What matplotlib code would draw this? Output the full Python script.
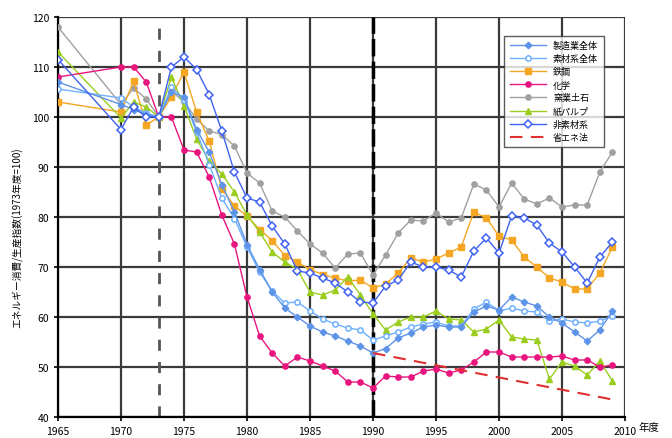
import matplotlib
matplotlib.use('Agg')
import matplotlib.pyplot as plt

plt.rcParams['font.family'] = ['Noto Sans CJK JP', 'DejaVu Sans']

years = [1965] + list(range(1970, 2010))

# 製造業全体
all_mfg = [107,
           102.5, 101.5, 100.5, 100, 105, 104, 97.5, 93, 86.5, 81,
           74.5, 69.5, 65, 61.8, 60, 58.2, 57, 56.2, 55.2, 54.2,
           52.8, 53.7, 55.8, 56.8, 58, 58.4, 58, 58, 61, 62.2,
           61.4, 64, 63, 62.2, 60, 58.8, 57, 55.2, 57.4, 61.2]
# 素材系全体
materials = [105.6,
             103.8, 102, 100.8, 100, 106, 103.5, 97, 90.5, 83.8, 79.7,
             74, 69, 65.2, 62.8, 63, 61.2, 59.6, 58.6, 57.8, 57.4,
             55.4, 56.2, 57, 58, 58.6, 59, 58.2, 58.2, 61.6, 63,
             61.2, 61.8, 61.2, 61, 59.2, 59.6, 59, 58.8, 59.2, 60.2]
# 鉄鋼
steel = [103,
         101, 107.2, 98.4, 100, 104, 109, 101, 95.2, 85.6, 82.2,
         80.2, 77.5, 75.3, 72.3, 71, 69.5, 68.5, 67.8, 67.2, 67.4,
         65.8, 66.6, 68.8, 71.8, 71, 71.6, 72.8, 74, 81, 79.8,
         76.2, 75.4, 72, 70, 67.8, 67, 65.6, 65.6, 68.8, 74]
# 化学
chemical = [108,
            110, 110, 107, 100, 100, 93.4, 93, 88, 80.4, 74.6,
            64, 56.2, 52.8, 50.2, 52, 51.2, 50.2, 49.2, 47, 47,
            45.8, 48.2, 48, 48, 49.2, 49.6, 48.8, 49.4, 51, 53,
            53, 52, 52, 52, 52, 52.2, 51.4, 51.4, 50, 50.4]
# 窯業土石
ceramics = [118,
            102.5, 105.8, 103.6, 100, 105.2, 103, 99.6, 97.2, 96.5, 94.2,
            88.8, 86.8, 81.2, 80, 77.2, 74.6, 72.8, 69.8, 72.6, 72.8,
            68.4, 72.4, 76.8, 79.4, 79.2, 80.8, 79, 79.8, 86.6, 85.4,
            82, 86.8, 83.6, 82.6, 83.8, 82, 82.4, 82.4, 89, 93]
# 紙パルプ
paper = [113,
         99.8, 103, 102, 100, 108, 102.2, 95.6, 91.2, 88.6, 85,
         80.4, 77, 73, 71, 69.5, 65, 64.4, 65.4, 68, 64.4,
         60.6, 57.4, 59, 60, 60, 61.2, 59.6, 59.4, 57, 57.6,
         59.4, 56, 55.6, 55.4, 47.6, 51, 50.2, 48.4, 51.2, 47.2]
# 非素材系
non_materials = [111.5,
                 97.5, 102, 100, 100, 110, 112, 109.5, 104.5, 97.2, 89,
                 83.8, 83, 78.2, 74.6, 69.2, 68.8, 67.8, 66.8, 65, 63,
                 62.8, 66.2, 67.4, 71, 70, 70, 69.4, 68, 73.2, 75.8,
                 72.8, 80.2, 79.8, 78.4, 74.8, 73, 70, 66.8, 72, 75]
# 省エネ法 target line
law_years = [1990, 2009]
law_values = [52.8, 43.5]

fig = plt.figure(figsize=(6.72, 4.39), dpi=100)
ax = fig.add_axes([0.0863, 0.0478, 0.8438, 0.9112])

ax.set_xlim(1965, 2010)
ax.set_ylim(40, 120)
ax.set_xticks(range(1965, 2011, 5))
ax.set_yticks(range(40, 121, 10))
ax.grid(True, color='#3a3a3a', linewidth=1.6)
ax.set_axisbelow(True)
for s in ['top', 'right']:
    ax.spines[s].set_visible(False)
for s in ['left', 'bottom']:
    ax.spines[s].set_linewidth(1.6)
ax.tick_params(labelsize=7.5, length=3, width=1.2)

# reference years
ax.axvline(1973, color='#555555', linewidth=2, linestyle=(0, (4, 4)), zorder=2)
ax.axvline(1990, color='black', linewidth=2.5, linestyle=(0, (5, 1.5)), zorder=2)

ms = 3.8
lw = 1.0
ax.plot(years, ceramics, color='#a0a0a0', marker='o', ms=ms, lw=lw, label='窯業土石', zorder=3)
ax.plot(years, steel, color='#f5a623', marker='s', ms=ms, lw=lw, label='鉄鋼', zorder=3)
ax.plot(years, paper, color='#9acd1e', marker='^', ms=ms + 0.5, lw=lw, label='紙パルプ', zorder=3)
ax.plot(years, chemical, color='#e8157e', marker='o', ms=ms, lw=lw, label='化学', zorder=3)
ax.plot(years, materials, color='#6fb0ff', marker='o', ms=ms, lw=lw, mfc='white', mew=1.1, label='素材系全体', zorder=3)
ax.plot(years, all_mfg, color='#5d93e8', marker='D', ms=ms - 0.5, lw=lw, label='製造業全体', zorder=3)
ax.plot(years, non_materials, color='#3f63f0', marker='D', ms=ms, lw=lw, mfc='white', mew=1.1, label='非素材系', zorder=3)
ax.plot(law_years, law_values, color='#e03030', lw=1.5, linestyle=(0, (6, 4)), label='省エネ法', zorder=3)

order = ['製造業全体', '素材系全体', '鉄鋼', '化学', '窯業土石', '紙パルプ', '非素材系', '省エネ法']
handles, labels = ax.get_legend_handles_labels()
hmap = dict(zip(labels, handles))
leg = ax.legend([hmap[k] for k in order], order, loc='upper right',
                bbox_to_anchor=(0.97, 0.965), fontsize=6.5, handlelength=4,
                frameon=True, fancybox=False, edgecolor='#333333',
                labelspacing=0.45, borderpad=0.6)
leg.get_frame().set_linewidth(1.0)

ax.set_ylabel('エネルギー消費/生産指数(1973年度=100)', fontsize=7)
ax.yaxis.set_label_coords(-0.062, 0.45)
fig.text(0.965, 0.018, '年度', fontsize=7.5, ha='center')

fig.savefig('out.png', dpi=100)
